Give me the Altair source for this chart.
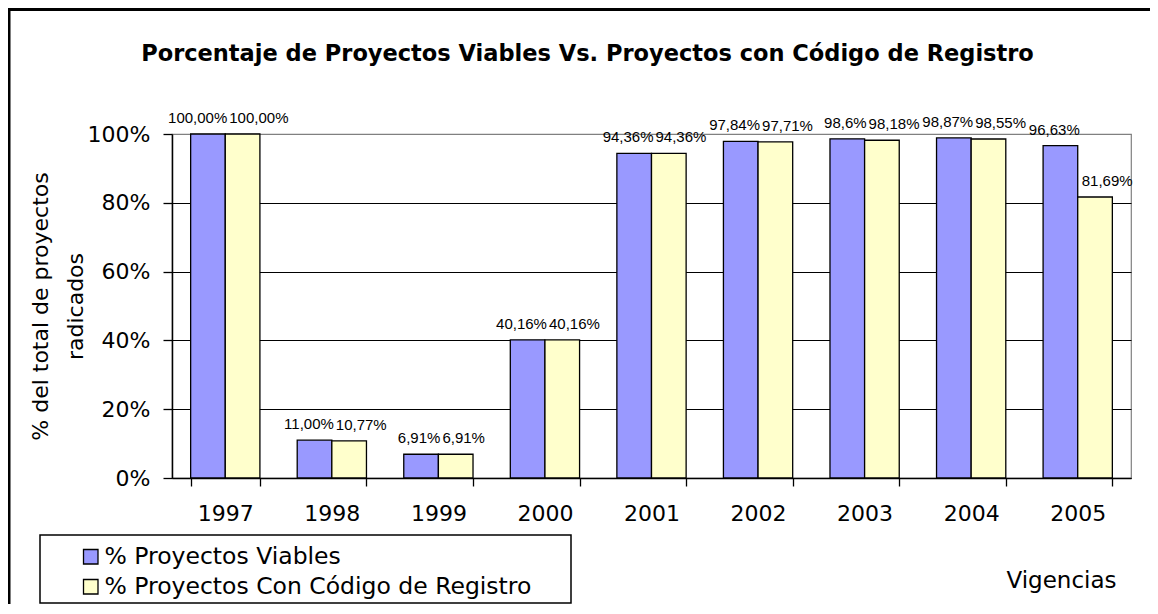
import altair as alt
import pandas as pd

years = ["1997", "1998", "1999", "2000", "2001", "2002", "2003", "2004", "2005"]
viables = [100.00, 11.00, 6.91, 40.16, 94.36, 97.84, 98.60, 98.87, 96.63]
registro = [100.00, 10.77, 6.91, 40.16, 94.36, 97.71, 98.18, 98.55, 81.69]
viables_labels = ["100,00%", "11,00%", "6,91%", "40,16%", "94,36%", "97,84%", "98,6%", "98,87%", "96,63%"]
registro_labels = ["100,00%", "10,77%", "6,91%", "40,16%", "94,36%", "97,71%", "98,18%", "98,55%", "81,69%"]
series = ["% Proyectos Viables", "% Proyectos Con Código de Registro"]
colors = ["#9999FF", "#FFFFCC"]
y_ticks = [0, 20, 40, 60, 80, 100]

rows = []
for i, yr in enumerate(years):
    rows.append({"year": yr, "serie": series[0], "value": viables[i], "label": viables_labels[i]})
    rows.append({"year": yr, "serie": series[1], "value": registro[i], "label": registro_labels[i]})
df = pd.DataFrame(rows)

W, H = 959, 344

x_scale = alt.Scale(domain=years, paddingInner=0.35, paddingOuter=0.175)
y_scale = alt.Scale(domain=[0, 100], nice=False)
color_scale = alt.Scale(domain=series, range=colors)

base = alt.Chart(df)

x_axis = alt.Axis(
    title="Vigencias", labelAngle=0, tickBand="extent", tickSize=8, tickColor="black",
    tickWidth=1.3, domainColor="black", domainWidth=1.5, labelFontSize=22, labelPadding=17,
    labelColor="black", titleFontSize=23, titleFontWeight="normal", titleX=889, titleY=102,
    titleAlign="center", titleBaseline="middle", titleColor="black", grid=False,
)
y_axis = alt.Axis(
    title=["% del total de proyectos", "radicados"], values=y_ticks,
    labelExpr="datum.value + '%'", tickSize=9, tickColor="black", tickWidth=1.3,
    labelPadding=13, labelFontSize=22, labelColor="black", grid=True,
    gridColor={"condition": {"test": "datum.value === 100", "value": "#808080"}, "value": "black"},
    gridWidth=1.2, domainColor="black", domainWidth=1.5, titleFontSize=22,
    titleFontWeight="normal", titleColor="black", titleX=-125, titleY=172,
    titleAlign="center", titleBaseline="alphabetic", titleAngle=270, titleLineHeight=35,
)

bars = base.mark_bar(stroke="black", strokeWidth=1.3).encode(
    x=alt.X("year:N", scale=x_scale, sort=years, axis=x_axis),
    xOffset=alt.XOffset("serie:N", sort=series,
                        scale=alt.Scale(domain=series, paddingInner=0, paddingOuter=0)),
    y=alt.Y("value:Q", scale=y_scale, axis=y_axis),
    color=alt.Color("serie:N", scale=color_scale, legend=alt.Legend(
        title=None, orient="none", legendX=-93, legendY=411, symbolType="square",
        symbolSize=210, symbolStrokeColor="black", symbolStrokeWidth=1.3,
        labelFontSize=23.5, labelOffset=2, rowPadding=5, padding=0, labelColor="black",
        labelLimit=0, symbolOpacity=1,
    )),
)

lab_v = base.transform_filter(alt.datum.serie == series[0]).mark_text(
    align="right", baseline="alphabetic", dx=2, dy=-11, fontSize=15, color="black",
    font="Liberation Sans",
).encode(
    x=alt.X("year:N", scale=x_scale, sort=years),
    y=alt.Y("value:Q", scale=y_scale),
    text="label:N",
)
lab_r = base.transform_filter(alt.datum.serie == series[1]).mark_text(
    align="left", baseline="alphabetic", dx=4, dy=-11, fontSize=15, color="black",
    font="Liberation Sans",
).encode(
    x=alt.X("year:N", scale=x_scale, sort=years),
    y=alt.Y("value:Q", scale=y_scale),
    text="label:N",
)

deco = alt.Chart(pd.DataFrame({"k": [0]}))
legend_box = deco.mark_rect(fill=None, stroke="black", strokeWidth=1.5).encode(
    x=alt.value(-132), x2=alt.value(399), y=alt.value(401), y2=alt.value(469)
)
border_left = deco.mark_rule(color="black", strokeWidth=3).encode(
    x=alt.value(-163), y=alt.value(-126), y2=alt.value(480)
)
border_top = deco.mark_rule(color="black", strokeWidth=3).encode(
    x=alt.value(-164), x2=alt.value(1000), y=alt.value(-124.5)
)

chart = alt.layer(bars, lab_v, lab_r, legend_box, border_left, border_top).properties(
    width=W, height=H,
    title=alt.TitleParams(
        text="Porcentaje de Proyectos Viables Vs. Proyectos con Código de Registro",
        font="DejaVu Sans", fontSize=22.5, fontWeight="bold", anchor="middle",
        frame="group", dx=-64, color="black", offset=-77, baseline="alphabetic",
    ),
    padding={"left": 164, "top": 126, "right": 19, "bottom": 126},
    autosize=alt.AutoSizeParams(type="none"),
).configure(font="DejaVu Sans").configure_view(stroke="#808080", strokeWidth=1.2)

chart.save("out.html", embed_options={"renderer": "svg", "actions": False})
